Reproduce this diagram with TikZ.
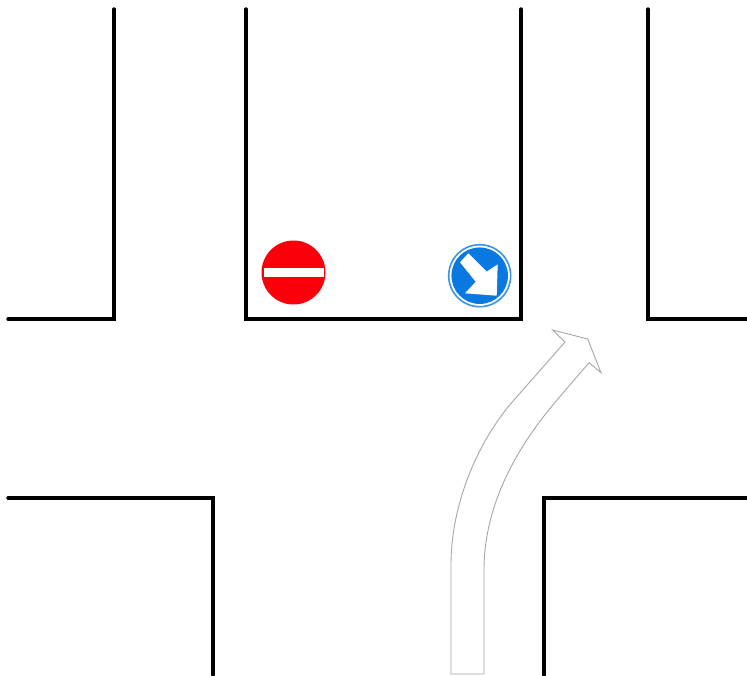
\documentclass[tikz,border=0pt]{standalone}
\usepackage{tikz}
\usetikzlibrary{calc}
\definecolor{signblue}{RGB}{10,120,225}
\definecolor{signred}{RGB}{250,0,10}
\tikzset{
  wall/.style={draw=black,line width=3.4pt,line cap=round,line join=miter},
  lane/.style={draw=black!35,line width=0.9pt,fill=white,line join=miter},
  redsign/.style={circle,fill=signred,inner sep=0pt,minimum size=64pt},
  bluesign/.style={circle,draw=signblue!80,line width=1.6pt,fill=white,inner sep=0pt,minimum size=62pt},
  bluecore/.style={circle,fill=signblue,inner sep=0pt,minimum size=56.5pt},
  whitebar/.style={fill=white,inner sep=0pt,minimum width=60pt,minimum height=9.5pt},
}

\begin{document}
\begin{tikzpicture}[x=1pt,y=-1pt]
\useasboundingbox (0,0) rectangle (747,675);
\fill[white] (0,0) rectangle (747,675);
% upper blocks
\draw[wall] (8,319) -- (114,319) -- (114,9);
\draw[wall] (246,9) -- (246,319) -- (521,319) -- (521,9);
\draw[wall] (648,9) -- (648,319) -- (747,319);
% lower blocks
\draw[wall] (8,498) -- (213,498) -- (213,675);
\draw[wall] (747,498) -- (544,498) -- (544,675);
% no entry
\node[redsign] (noentry) at (293.5,272.5) {};
\node[whitebar] (noentrybar) at (noentry) {};
% keep right
\node[bluesign] (keepright) at (479.7,275.7) {};
\node[bluecore] (keepcore) at (keepright) {};
\fill[white] (468.3,253.3) -- (486.7,271.7) -- (497.7,264.3) -- (496.7,295.7)
  -- (465,293.3) -- (475.7,281.7) -- (460,262.3) -- cycle;
% route
\draw[lane] (451,674) -- (451,565) .. controls (451,500) and (481,437) .. (514,400)
  -- (565,342) -- (552.7,330) -- (587.7,339) -- (601,372.7) -- (589,362.7)
  -- (557,400) .. controls (522,441) and (484,500) .. (484,570) -- (484,674) -- cycle;
\end{tikzpicture}
\end{document}
